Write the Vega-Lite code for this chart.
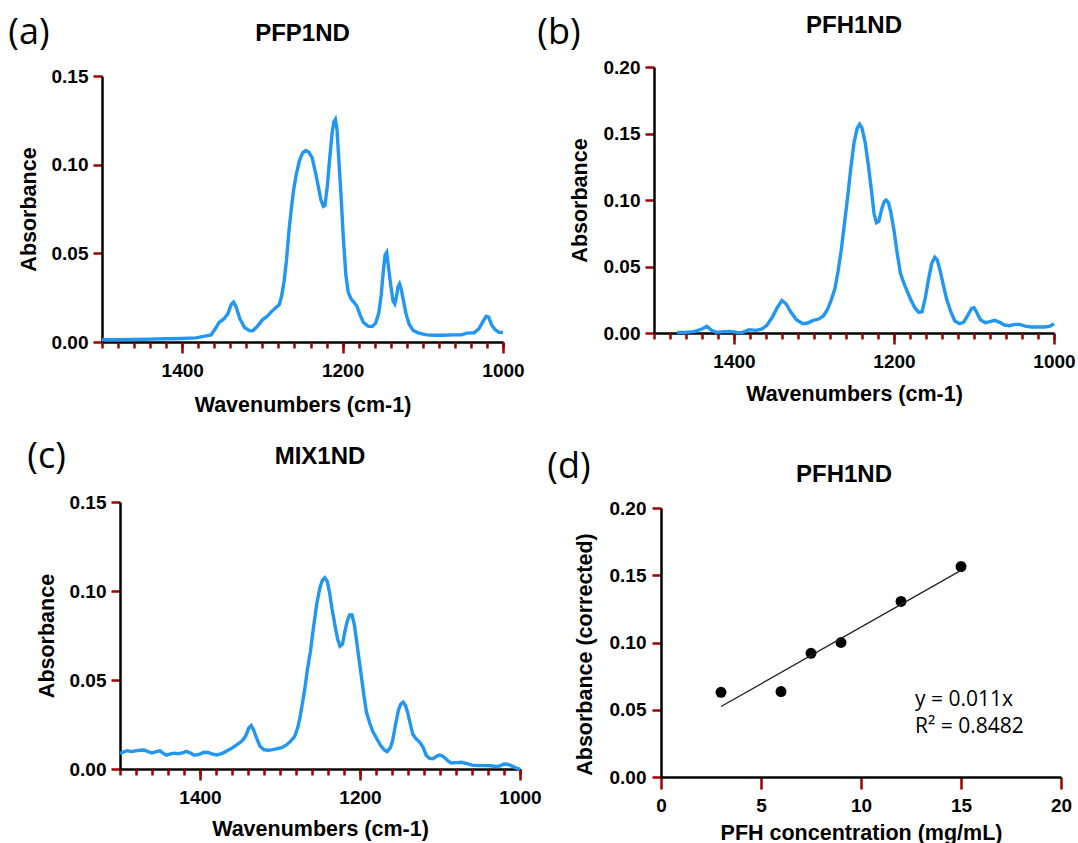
{
  "$schema": "https://vega.github.io/schema/vega-lite/v6.json",
  "background": "white",
  "padding": {"left": 8, "top": 13, "right": 0, "bottom": 0},
  "config": {
    "view": {"stroke": null},
    "axis": {
      "domainColor": "#000", "domainWidth": 2.5, "tickColor": "#a00000", "tickWidth": 2.5,
      "labelFont": "Liberation Sans", "labelFontSize": 19, "labelFontWeight": "bold", "labelColor": "#000",
      "titleFont": "Liberation Sans", "titleFontSize": 21.5, "titleFontWeight": "bold", "titleColor": "#000",
      "grid": false, "labelFlush": false, "labelOverlap": false, "zindex": 1
    },
    "title": {"font": "Liberation Sans", "fontSize": 24, "fontWeight": "bold", "color": "#000", "anchor": "middle", "frame": "group"}
  },
  "datasets": {
    "a": [
      {"wn":1500,"abs":0.0013},{"wn":1480,"abs":0.0013},{"wn":1460,"abs":0.0014},{"wn":1440,"abs":0.0016},{"wn":1420,"abs":0.0018},{"wn":1400,"abs":0.002},{"wn":1383,"abs":0.0023},{"wn":1370,"abs":0.0035},{"wn":1364,"abs":0.004},{"wn":1358,"abs":0.008},{"wn":1354,"abs":0.011},{"wn":1348,"abs":0.013},{"wn":1343,"abs":0.016},{"wn":1339,"abs":0.021},{"wn":1336,"abs":0.0225},{"wn":1333,"abs":0.02},{"wn":1328,"abs":0.013},{"wn":1322,"abs":0.008},{"wn":1316,"abs":0.0064},{"wn":1312,"abs":0.0063},{"wn":1306,"abs":0.009},{"wn":1300,"abs":0.0125},{"wn":1294,"abs":0.0145},{"wn":1289,"abs":0.017},{"wn":1283,"abs":0.0195},{"wn":1279,"abs":0.021},{"wn":1276,"abs":0.026},{"wn":1273,"abs":0.034},{"wn":1270,"abs":0.046},{"wn":1267,"abs":0.062},{"wn":1264,"abs":0.075},{"wn":1261,"abs":0.086},{"wn":1258,"abs":0.094},{"wn":1254,"abs":0.102},{"wn":1250,"abs":0.1065},{"wn":1246,"abs":0.108},{"wn":1242,"abs":0.107},{"wn":1238,"abs":0.104},{"wn":1234,"abs":0.096},{"wn":1230,"abs":0.087},{"wn":1227,"abs":0.08},{"wn":1224,"abs":0.0765},{"wn":1222,"abs":0.077},{"wn":1219,"abs":0.088},{"wn":1216,"abs":0.104},{"wn":1213,"abs":0.118},{"wn":1211,"abs":0.124},{"wn":1209,"abs":0.1255},{"wn":1207,"abs":0.12},{"wn":1205,"abs":0.105},{"wn":1202,"abs":0.083},{"wn":1199,"abs":0.058},{"wn":1196,"abs":0.038},{"wn":1193,"abs":0.028},{"wn":1189,"abs":0.024},{"wn":1185,"abs":0.022},{"wn":1182,"abs":0.02},{"wn":1178,"abs":0.015},{"wn":1174,"abs":0.011},{"wn":1168,"abs":0.0088},{"wn":1163,"abs":0.0088},{"wn":1159,"abs":0.0105},{"wn":1155,"abs":0.016},{"wn":1152,"abs":0.026},{"wn":1149,"abs":0.041},{"wn":1147,"abs":0.049},{"wn":1145,"abs":0.0505},{"wn":1143,"abs":0.043},{"wn":1140,"abs":0.032},{"wn":1137,"abs":0.023},{"wn":1135,"abs":0.0215},{"wn":1133,"abs":0.025},{"wn":1131,"abs":0.031},{"wn":1129,"abs":0.0328},{"wn":1127,"abs":0.03},{"wn":1124,"abs":0.023},{"wn":1121,"abs":0.016},{"wn":1117,"abs":0.01},{"wn":1112,"abs":0.0065},{"wn":1105,"abs":0.005},{"wn":1095,"abs":0.004},{"wn":1087,"abs":0.0038},{"wn":1075,"abs":0.0038},{"wn":1062,"abs":0.004},{"wn":1052,"abs":0.004},{"wn":1045,"abs":0.005},{"wn":1036,"abs":0.0052},{"wn":1030,"abs":0.0075},{"wn":1025,"abs":0.0115},{"wn":1021,"abs":0.0145},{"wn":1018,"abs":0.014},{"wn":1014,"abs":0.0095},{"wn":1010,"abs":0.007},{"wn":1005,"abs":0.0055},{"wn":1000,"abs":0.0053}
    ],
    "b": [
      {"wn":1471,"abs":0.0005},{"wn":1460,"abs":0.0005},{"wn":1450,"abs":0.001},{"wn":1440,"abs":0.003},{"wn":1434,"abs":0.005},{"wn":1428,"abs":0.002},{"wn":1422,"abs":0.0005},{"wn":1412,"abs":0.001},{"wn":1405,"abs":0.0012},{"wn":1396,"abs":0.0005},{"wn":1390,"abs":0.0003},{"wn":1381,"abs":0.0025},{"wn":1372,"abs":0.002},{"wn":1365,"abs":0.003},{"wn":1359,"abs":0.0057},{"wn":1352,"abs":0.012},{"wn":1346,"abs":0.019},{"wn":1340,"abs":0.0245},{"wn":1335,"abs":0.022},{"wn":1329,"abs":0.0157},{"wn":1322,"abs":0.01},{"wn":1314,"abs":0.007},{"wn":1308,"abs":0.0075},{"wn":1301,"abs":0.0095},{"wn":1294,"abs":0.0105},{"wn":1288,"abs":0.013},{"wn":1283,"abs":0.018},{"wn":1279,"abs":0.024},{"wn":1274,"abs":0.033},{"wn":1270,"abs":0.046},{"wn":1266,"abs":0.062},{"wn":1262,"abs":0.082},{"wn":1258,"abs":0.102},{"wn":1254,"abs":0.124},{"wn":1250,"abs":0.143},{"wn":1246,"abs":0.154},{"wn":1243,"abs":0.157},{"wn":1240,"abs":0.154},{"wn":1236,"abs":0.143},{"wn":1232,"abs":0.126},{"wn":1228,"abs":0.106},{"wn":1225,"abs":0.09},{"wn":1222,"abs":0.083},{"wn":1219,"abs":0.084},{"wn":1215,"abs":0.094},{"wn":1212,"abs":0.099},{"wn":1210,"abs":0.1},{"wn":1207,"abs":0.098},{"wn":1204,"abs":0.091},{"wn":1200,"abs":0.077},{"wn":1196,"abs":0.06},{"wn":1192,"abs":0.045},{"wn":1188,"abs":0.038},{"wn":1184,"abs":0.032},{"wn":1179,"abs":0.025},{"wn":1174,"abs":0.019},{"wn":1169,"abs":0.0155},{"wn":1165,"abs":0.016},{"wn":1161,"abs":0.026},{"wn":1157,"abs":0.04},{"wn":1153,"abs":0.052},{"wn":1149,"abs":0.057},{"wn":1146,"abs":0.055},{"wn":1142,"abs":0.046},{"wn":1138,"abs":0.035},{"wn":1134,"abs":0.025},{"wn":1129,"abs":0.016},{"wn":1124,"abs":0.009},{"wn":1118,"abs":0.007},{"wn":1113,"abs":0.008},{"wn":1108,"abs":0.013},{"wn":1103,"abs":0.0185},{"wn":1100,"abs":0.019},{"wn":1097,"abs":0.016},{"wn":1092,"abs":0.01},{"wn":1086,"abs":0.0078},{"wn":1080,"abs":0.0085},{"wn":1074,"abs":0.0095},{"wn":1068,"abs":0.008},{"wn":1062,"abs":0.006},{"wn":1056,"abs":0.0055},{"wn":1049,"abs":0.0065},{"wn":1043,"abs":0.0065},{"wn":1036,"abs":0.0052},{"wn":1028,"abs":0.0045},{"wn":1020,"abs":0.0045},{"wn":1012,"abs":0.0045},{"wn":1005,"abs":0.0052},{"wn":1000,"abs":0.007}
    ],
    "c": [
      {"wn":1500,"abs":0.0088},{"wn":1496,"abs":0.0095},{"wn":1491,"abs":0.0103},{"wn":1486,"abs":0.0098},{"wn":1481,"abs":0.0102},{"wn":1475,"abs":0.0105},{"wn":1470,"abs":0.0107},{"wn":1465,"abs":0.0098},{"wn":1460,"abs":0.009},{"wn":1455,"abs":0.0098},{"wn":1450,"abs":0.0102},{"wn":1446,"abs":0.0088},{"wn":1442,"abs":0.0078},{"wn":1437,"abs":0.0085},{"wn":1432,"abs":0.0089},{"wn":1427,"abs":0.0086},{"wn":1422,"abs":0.009},{"wn":1417,"abs":0.0099},{"wn":1412,"abs":0.009},{"wn":1407,"abs":0.0077},{"wn":1401,"abs":0.0082},{"wn":1395,"abs":0.0094},{"wn":1390,"abs":0.0093},{"wn":1385,"abs":0.0085},{"wn":1379,"abs":0.0079},{"wn":1372,"abs":0.0088},{"wn":1366,"abs":0.0103},{"wn":1359,"abs":0.012},{"wn":1352,"abs":0.0142},{"wn":1347,"abs":0.016},{"wn":1343,"abs":0.0185},{"wn":1339,"abs":0.023},{"wn":1336,"abs":0.0244},{"wn":1333,"abs":0.022},{"wn":1329,"abs":0.017},{"wn":1325,"abs":0.0128},{"wn":1320,"abs":0.0108},{"wn":1314,"abs":0.0105},{"wn":1306,"abs":0.0112},{"wn":1298,"abs":0.012},{"wn":1292,"abs":0.0135},{"wn":1287,"abs":0.0155},{"wn":1282,"abs":0.018},{"wn":1278,"abs":0.023},{"wn":1275,"abs":0.029},{"wn":1272,"abs":0.037},{"wn":1269,"abs":0.045},{"wn":1266,"abs":0.055},{"wn":1262,"abs":0.066},{"wn":1258,"abs":0.08},{"wn":1254,"abs":0.093},{"wn":1250,"abs":0.102},{"wn":1247,"abs":0.106},{"wn":1244,"abs":0.1075},{"wn":1241,"abs":0.1055},{"wn":1238,"abs":0.099},{"wn":1235,"abs":0.09},{"wn":1231,"abs":0.08},{"wn":1228,"abs":0.073},{"wn":1225,"abs":0.069},{"wn":1222,"abs":0.07},{"wn":1219,"abs":0.077},{"wn":1216,"abs":0.083},{"wn":1213,"abs":0.0865},{"wn":1210,"abs":0.0865},{"wn":1207,"abs":0.081},{"wn":1204,"abs":0.071},{"wn":1201,"abs":0.061},{"wn":1198,"abs":0.051},{"wn":1195,"abs":0.041},{"wn":1192,"abs":0.032},{"wn":1188,"abs":0.026},{"wn":1184,"abs":0.021},{"wn":1179,"abs":0.017},{"wn":1174,"abs":0.013},{"wn":1169,"abs":0.0105},{"wn":1166,"abs":0.0098},{"wn":1162,"abs":0.012},{"wn":1159,"abs":0.0165},{"wn":1156,"abs":0.024},{"wn":1152,"abs":0.033},{"wn":1149,"abs":0.0365},{"wn":1146,"abs":0.0375},{"wn":1143,"abs":0.0355},{"wn":1140,"abs":0.031},{"wn":1137,"abs":0.025},{"wn":1134,"abs":0.0195},{"wn":1130,"abs":0.017},{"wn":1125,"abs":0.0148},{"wn":1121,"abs":0.012},{"wn":1117,"abs":0.0075},{"wn":1113,"abs":0.006},{"wn":1109,"abs":0.0058},{"wn":1104,"abs":0.0072},{"wn":1101,"abs":0.0079},{"wn":1098,"abs":0.0076},{"wn":1094,"abs":0.0063},{"wn":1090,"abs":0.0045},{"wn":1086,"abs":0.0034},{"wn":1080,"abs":0.0036},{"wn":1073,"abs":0.0038},{"wn":1067,"abs":0.0031},{"wn":1060,"abs":0.0022},{"wn":1052,"abs":0.002},{"wn":1043,"abs":0.0019},{"wn":1036,"abs":0.0018},{"wn":1030,"abs":0.0013},{"wn":1024,"abs":0.0019},{"wn":1020,"abs":0.0028},{"wn":1016,"abs":0.0027},{"wn":1011,"abs":0.0019},{"wn":1006,"abs":0.0008},{"wn":1002,"abs":0.0001},{"wn":1000,"abs":0.0}
    ],
    "d": [
      {"conc":3,"abs":0.063},{"conc":6,"abs":0.0635},{"conc":7.5,"abs":0.092},{"conc":9,"abs":0.1},{"conc":12,"abs":0.1305},{"conc":15,"abs":0.1565}
    ],
    "dtext": [
      {"conc":12.7,"abs":0.0575,"label":"y = 0.011x"},
      {"conc":12.7,"abs":0.0372,"label":"R² = 0.8482"}
    ]
  },
  "spacing": 22,
  "vconcat": [
    {
      "spacing": 12,
      "hconcat": [
        {
          "title": {"text": "(a)", "anchor": "start", "frame": "group", "font": "Open Sans", "fontSize": 36, "fontWeight": "normal", "color": "#000", "offset": -30.4, "dx": -93.7},
          "vconcat": [
            {
              "width": 401, "height": 275,
              "title": {"text": "PFP1ND", "offset": 21},
              "data": {"name": "a"},
              "encoding": {
                "y": {"field": "abs", "type": "quantitative", "title": "Absorbance",
                  "scale": {"domain": [0, 0.15], "range": [275, 9], "nice": false},
                  "axis": {"values": [0, 0.05, 0.1, 0.15], "format": ".2f", "tickSize": 9, "tickColor": "#a00000", "tickWidth": 2.5, "labelPadding": 5, "titlePadding": 10.8}}
              },
              "layer": [
                {
                  "mark": {"type": "line", "color": "#2196f3", "strokeWidth": 3.4},
                  "encoding": {
                    "x": {"field": "wn", "type": "quantitative", "title": "Wavenumbers (cm-1)",
                      "scale": {"domain": [1000, 1500], "reverse": true, "nice": false, "zero": false},
                      "axis": {"orient": "bottom", "values": [1400, 1200, 1000], "format": "d", "tickSize": 11, "tickColor": "#a00000", "tickWidth": 2.5, "labelPadding": 8.5, "titlePadding": 13.5}}
                  }
                },
                {
                  "mark": {"type": "line", "opacity": 0},
                  "encoding": {
                    "x": {"field": "wn", "type": "quantitative",
                      "axis": {"orient": "bottom", "values": [1500,1480,1460,1440,1420,1400,1380,1360,1340,1320,1300,1280,1260,1240,1220,1200,1180,1160,1140,1120,1100,1080,1060,1040,1020,1000], "tickSize": 6, "tickColor": "#a00000", "tickWidth": 2.5, "labels": false, "domain": false, "title": null}}
                  }
                }
              ],
              "resolve": {"axis": {"x": "independent"}}
            }
          ]
        },
        {
          "title": {"text": "(b)", "anchor": "start", "frame": "group", "font": "Open Sans", "fontSize": 36, "fontWeight": "normal", "color": "#000", "offset": -37.9, "dx": -116.7},
          "vconcat": [
            {
              "width": 400, "height": 266,
              "title": {"text": "PFH1ND", "offset": 20.4},
              "data": {"name": "b"},
              "encoding": {
                "y": {"field": "abs", "type": "quantitative", "title": "Absorbance",
                  "scale": {"domain": [0, 0.2], "nice": false},
                  "axis": {"values": [0, 0.05, 0.1, 0.15, 0.2], "format": ".2f", "tickSize": 9, "tickColor": "#a00000", "tickWidth": 2.5, "labelPadding": 5, "titlePadding": 11.8}}
              },
              "layer": [
                {
                  "mark": {"type": "line", "color": "#2196f3", "strokeWidth": 3.4},
                  "encoding": {
                    "x": {"field": "wn", "type": "quantitative", "title": "Wavenumbers (cm-1)",
                      "scale": {"domain": [1000, 1500], "reverse": true, "nice": false, "zero": false},
                      "axis": {"orient": "bottom", "values": [1400, 1200, 1000], "format": "d", "tickSize": 11, "tickColor": "#a00000", "tickWidth": 2.5, "labelPadding": 8, "titlePadding": 12.5}}
                  }
                },
                {
                  "mark": {"type": "line", "opacity": 0},
                  "encoding": {
                    "x": {"field": "wn", "type": "quantitative",
                      "axis": {"orient": "bottom", "values": [1500,1480,1460,1440,1420,1400,1380,1360,1340,1320,1300,1280,1260,1240,1220,1200,1180,1160,1140,1120,1100,1080,1060,1040,1020,1000], "tickSize": 6, "tickColor": "#a00000", "tickWidth": 2.5, "labels": false, "domain": false, "title": null}}
                  }
                }
              ],
              "resolve": {"axis": {"x": "independent"}}
            }
          ]
        }
      ]
    },
    {
      "spacing": 5,
      "hconcat": [
        {
          "title": {"text": "(c)", "anchor": "start", "frame": "group", "font": "Open Sans", "fontSize": 36, "fontWeight": "normal", "color": "#000", "offset": -30.5, "dx": -74.7},
          "vconcat": [
            {
              "width": 418, "height": 267,
              "title": {"text": "MIX1ND", "offset": 24, "dx": 9},
              "data": {"name": "c"},
              "encoding": {
                "y": {"field": "abs", "type": "quantitative", "title": "Absorbance",
                  "scale": {"domain": [0, 0.15], "nice": false},
                  "axis": {"values": [0, 0.05, 0.1, 0.15], "format": ".2f", "tickSize": 9, "tickColor": "#a00000", "tickWidth": 2.5, "labelPadding": 5, "offset": -18, "titlePadding": 10.8}}
              },
              "layer": [
                {
                  "mark": {"type": "line", "color": "#2196f3", "strokeWidth": 3.4},
                  "encoding": {
                    "x": {"field": "wn", "type": "quantitative", "title": "Wavenumbers (cm-1)",
                      "scale": {"domain": [1000, 1500], "range": [18, 418], "reverse": true, "nice": false, "zero": false},
                      "axis": {"orient": "bottom", "values": [1400, 1200, 1000], "format": "d", "tickSize": 11, "tickColor": "#a00000", "tickWidth": 2.5, "labelPadding": 8.5, "titlePadding": 11}}
                  }
                },
                {
                  "mark": {"type": "line", "opacity": 0},
                  "encoding": {
                    "x": {"field": "wn", "type": "quantitative",
                      "axis": {"orient": "bottom", "values": [1500,1480,1460,1440,1420,1400,1380,1360,1340,1320,1300,1280,1260,1240,1220,1200,1180,1160,1140,1120,1100,1080,1060,1040,1020,1000], "tickSize": 6, "tickColor": "#a00000", "tickWidth": 2.5, "labels": false, "domain": false, "title": null}}
                  }
                }
              ],
              "resolve": {"axis": {"x": "independent"}}
            }
          ]
        },
        {
          "title": {"text": "(d)", "anchor": "start", "frame": "group", "font": "Open Sans", "fontSize": 36, "fontWeight": "normal", "color": "#000", "offset": -22.2, "dx": -113.7},
          "vconcat": [
            {
              "width": 400, "height": 275,
              "title": {"text": "PFH1ND", "offset": 11.7, "dx": -17},
              "encoding": {
                "x": {"field": "conc", "type": "quantitative", "title": "PFH concentration (mg/mL)",
                  "scale": {"domain": [0, 20], "nice": false},
                  "axis": {"values": [0, 5, 10, 15, 20], "format": "d", "tickSize": 12, "tickColor": "#a00000", "tickWidth": 2.5, "labelPadding": 7, "titlePadding": 7}},
                "y": {"field": "abs", "type": "quantitative", "title": "Absorbance (corrected)",
                  "scale": {"domain": [0, 0.2], "range": [275, 6], "nice": false},
                  "axis": {"values": [0, 0.05, 0.1, 0.15, 0.2], "format": ".2f", "tickSize": 9, "tickColor": "#a00000", "tickWidth": 2.5, "labelPadding": 6, "titleX": -64.3, "titleY": 152}}
              },
              "layer": [
                {
                  "data": {"name": "d"},
                  "mark": {"type": "circle", "color": "#000", "size": 120, "opacity": 1}
                },
                {
                  "data": {"name": "d"},
                  "transform": [{"regression": "abs", "on": "conc"}],
                  "mark": {"type": "line", "color": "#222", "strokeWidth": 1.3}
                },
                {
                  "data": {"name": "dtext"},
                  "mark": {"type": "text", "align": "left", "baseline": "middle", "font": "Open Sans", "fontSize": 21, "color": "#000"},
                  "encoding": {"text": {"field": "label"}}
                }
              ]
            }
          ]
        }
      ]
    }
  ]
}
